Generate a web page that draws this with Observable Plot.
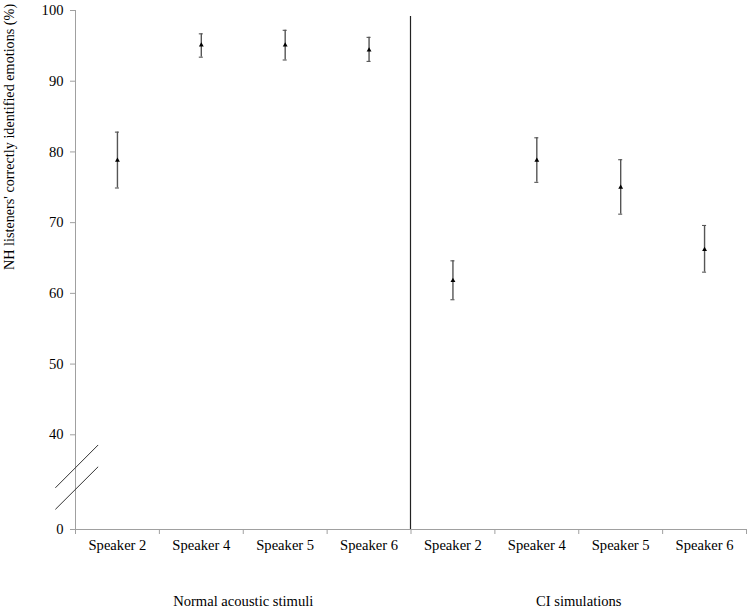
<!DOCTYPE html>
<html>
<head>
<meta charset="utf-8">
<script src="https://cdn.jsdelivr.net/npm/d3@7"></script>
<script src="https://cdn.jsdelivr.net/npm/@observablehq/plot@0.6"></script>
<style>
  html, body { margin: 0; padding: 0; background: #fff; }
  #chart { width: 750px; height: 609px; }
  #chart svg, #chart svg text { font-family: "Liberation Serif", "DejaVu Serif", serif !important; }
</style>
</head>
<body>
<div id="chart"></div>
<script>
// ---- data ----
const groups = ["Normal acoustic stimuli", "CI simulations"];
const speakers = ["Speaker 2", "Speaker 4", "Speaker 5", "Speaker 6"];
const normalMean = [78.8, 95.1, 95.1, 94.4];
const normalLow  = [74.9, 93.4, 93.0, 92.8];
const normalHigh = [82.8, 96.7, 97.2, 96.2];
const ciMean = [61.8, 78.8, 75.0, 66.2];
const ciLow  = [59.1, 75.7, 71.2, 63.0];
const ciHigh = [64.6, 82.0, 78.9, 69.6];
const yTicks = [0, 40, 50, 60, 70, 80, 90, 100];
const yLabel = "NH listeners' correctly identified emotions (%)";
// axis-break annotation (value span of the two slashes)
const breakMarks = [{y1: 17.6, y2: 35.7}, {y1: 8.5, y2: 26.5}];

// ---- build rows ----
const rows = [];
[[normalMean, normalLow, normalHigh], [ciMean, ciLow, ciHigh]].forEach(([m, lo, hi], g) => {
  speakers.forEach((s, i) => {
    rows.push({group: groups[g], speaker: s, pos: g * speakers.length + i + 0.5, mean: m[i], low: lo[i], high: hi[i]});
  });
});
const nCat = groups.length * speakers.length;
const boundaries = d3.range(nCat + 1);
const centers = d3.range(nCat).map(i => i + 0.5);
const capHalf = 0.024;
const axisGray = "#a0a0a0";
const serif = "Liberation Serif, DejaVu Serif, serif";

const plot = Plot.plot({
  width: 750,
  height: 609,
  marginLeft: 75,
  marginRight: 4,
  marginTop: 10,
  marginBottom: 80,
  style: {fontFamily: serif, fontSize: "14.6px", background: "#fff", color: "#000"},
  x: {type: "linear", domain: [0, nCat], range: [75, 746]},
  y: {type: "linear", domain: [0, 40, 100], range: [529, 434.3, 10]},
  marks: [
    Plot.ruleY([0], {stroke: axisGray, strokeWidth: 1}),
    Plot.ruleX([0], {y1: 0, y2: 100, stroke: axisGray, strokeWidth: 1}),
    Plot.axisY({ticks: yTicks, tickSize: 5, tickPadding: 7, stroke: axisGray, fill: "#000", label: null, tickFormat: d => String(d), fontFamily: serif}),
    Plot.axisX({ticks: boundaries, tickSize: 5, tickFormat: () => "", stroke: axisGray, label: null}),
    Plot.axisX({ticks: centers, tickSize: 0, tickPadding: 10, fill: "#000", fontFamily: serif,
      tickFormat: d => speakers[Math.floor(d) % speakers.length], label: null}),
    Plot.ruleX([speakers.length], {y1: 0, y2: 99.15, stroke: "#222", strokeWidth: 1.2, dx: -0.5}),
    Plot.link(breakMarks, {x1: -0.24, x2: 0.27, y1: "y1", y2: "y2", stroke: "#333", strokeWidth: 1, clip: false}),
    Plot.ruleX(rows, {x: "pos", y1: "low", y2: "high", stroke: "#555", strokeWidth: 1.4}),
    Plot.ruleY(rows, {y: "low", x1: d => d.pos - capHalf, x2: d => d.pos + capHalf, stroke: "#555", strokeWidth: 1.1}),
    Plot.ruleY(rows, {y: "high", x1: d => d.pos - capHalf, x2: d => d.pos + capHalf, stroke: "#555", strokeWidth: 1.1}),
    Plot.dot(rows, {x: "pos", y: "mean", symbol: "triangle", r: 1.8, fill: "#000", stroke: "none"}),
    Plot.text(groups, {x: (d, i) => i * speakers.length + speakers.length / 2, frameAnchor: "bottom", dy: 72,
      text: d => d, fill: "#000", fontSize: 14.6, lineAnchor: "middle", fontFamily: serif}),
    Plot.text([yLabel], {frameAnchor: "left", dx: -66, rotate: -90, text: d => d, fill: "#000", fontSize: 14.2, lineAnchor: "middle", fontFamily: serif})
  ]
});
document.getElementById("chart").appendChild(plot);
</script>
</body>
</html>
